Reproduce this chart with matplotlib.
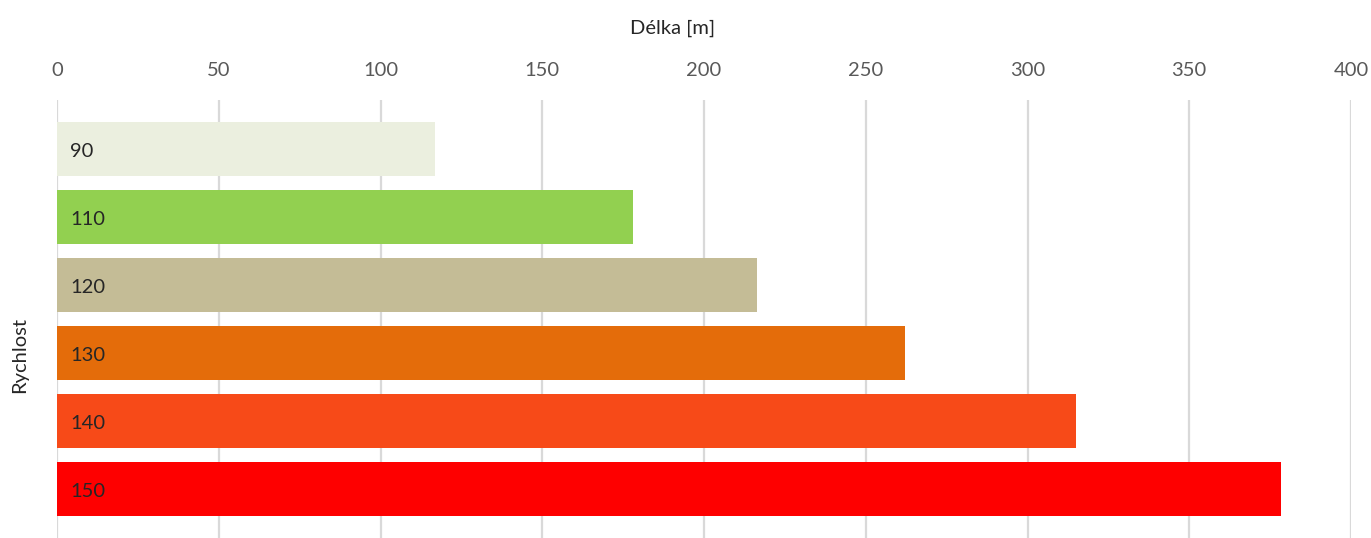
import matplotlib.pyplot as plt
import numpy as np

speeds = ['90', '110', '120', '130', '140', '150']
lengths = [117, 178, 216.5, 262, 315, 378.5]
bar_colors = ['#EBEFDF', '#92D050', '#C4BC96', '#E46C0A', '#F74A18', '#FE0000']

plt.rcParams['font.family'] = ['Lato', 'DejaVu Sans']
fs = 14.5

fig = plt.figure(figsize=(13.71, 5.38), dpi=100)
ax = fig.add_axes([57 / 1371, 0.0, (1351 - 57) / 1371, 1 - 100 / 538])

y = np.arange(len(speeds))
ax.barh(y, lengths, height=0.79, color=bar_colors, zorder=2)

for yi, s in zip(y, speeds):
    ax.text(4, yi + 0.04, s, va='center', ha='left', fontsize=fs, color='#262626', zorder=3)

ax.set_xlim(0, 400)
ax.set_ylim(len(speeds) - 0.28, -0.72)
ax.set_xticks(np.arange(0, 401, 50))
ax.xaxis.tick_top()
ax.tick_params(axis='x', length=0, pad=15, labelsize=fs, labelcolor='#595959')
ax.set_yticks([])
ax.grid(axis='x', color='#D9D9D9', linewidth=1.6, zorder=0)
for sp in ax.spines.values():
    sp.set_visible(False)

fig.text(673 / 1371, 1 - 28 / 538, 'Délka [m]', va='center', ha='center',
         fontsize=fs, color='#262626')
fig.text(20 / 1371, 1 - 355 / 538, 'Rychlost', rotation=90, va='center', ha='center',
         fontsize=fs, color='#262626')

fig.savefig('out.png', dpi=100)
